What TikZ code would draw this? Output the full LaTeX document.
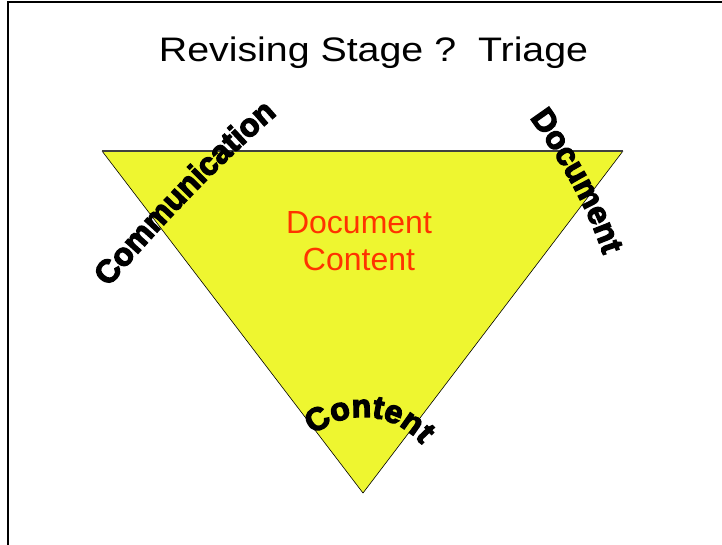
\documentclass[tikz,border=0pt]{standalone}
\usepackage{fontspec}
\setmainfont{Liberation Sans}
\newfontfamily\heavyfont{Liberation Sans Bold}[FakeBold=4]
\usetikzlibrary{decorations.text}
\definecolor{triyellow}{RGB}{238,246,48}
\definecolor{labelred}{RGB}{255,51,0}

\begin{document}
\begin{tikzpicture}[x=1pt,y=1pt,
    curved/.style={decorate,decoration={text along path,text align=center,
      text={|\fontsize{32}{32}\heavyfont|#1}}}]
    \useasboundingbox (0,0) rectangle (722,545);
    \draw[line width=1.5pt] (8,0) -- (8,543) -- (722,543);
    % the triangle
    \coordinate (tl) at (102,394);
    \coordinate (tr) at (623,394);
    \coordinate (tip) at (363,52);
    \fill[triyellow] (tl) -- (tr) -- (tip) -- cycle;
    \draw[line width=0.6pt] (tr) -- (tip) -- (tl);
    \draw[line width=1.5pt, black!75] (tl) -- (tr);
    \node[anchor=base, xscale=1.157, transform shape] (title) at (373.5,483) {\fontsize{34}{40}\selectfont Revising Stage ?\ \ Triage};
    \node[labelred, align=center, font=\fontsize{32}{37}\selectfont] (middle) at (359,304) {Document\\Content};
    % words round the corners
    \path[curved=Communication] (114,264) .. controls (162,320) and (217,378) .. (271,425);
    \path[curved=Document] (526,432) .. controls (556,392) and (590,335) .. (605,284);
    \path[curved=Content] ([shift={(140:76)}]tip) arc[start angle=140, end angle=30, radius=76];
\end{tikzpicture}
\end{document}
